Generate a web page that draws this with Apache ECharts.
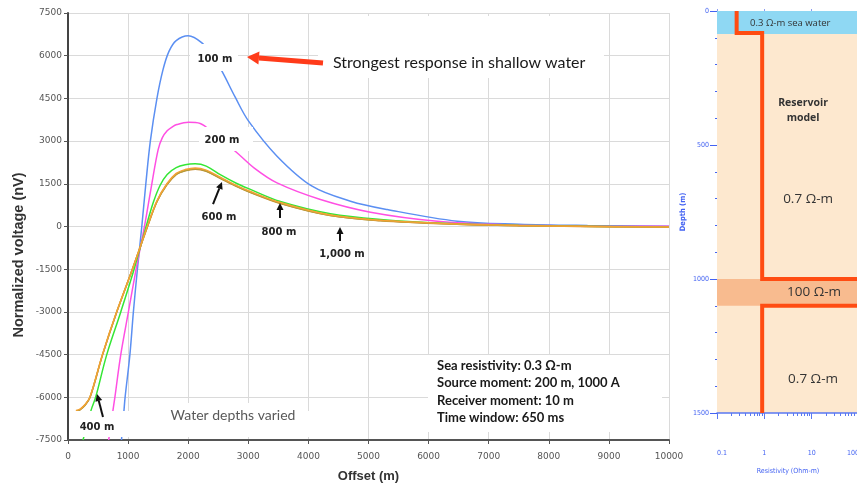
<!DOCTYPE html>
<html><head><meta charset="utf-8">
<script src="https://cdn.jsdelivr.net/npm/echarts@6/dist/echarts.min.js"></script>
<style>html,body{margin:0;padding:0;background:#fff}#c{width:857px;height:485px}</style>
</head><body><div id="c"></div>
<script>
// ---------------- data (left chart: offset in m, normalized voltage in nV) ----------------
const off100 = [890, 930, 950, 1030, 1088, 1155, 1228, 1295, 1370, 1480, 1580, 1680, 1800, 2000, 2228, 2400, 2561, 2780, 3005, 3478, 4061, 4700, 5311, 6478, 7500, 8645, 10000];
const volt100 = [-7500, -6500, -6000, -4500, -3000, -1500, 0, 1500, 3000, 4500, 5500, 6150, 6530, 6700, 6450, 6000, 5455, 4550, 3700, 2470, 1415, 890, 597, 186, 80, 35, 10];

const off200 = [677, 745, 780, 878, 1005, 1133, 1272, 1395, 1500, 1570, 1650, 1730, 1811, 2005, 2200, 2450, 2783, 3100, 3478, 4200, 5033, 6145, 7300, 8500, 10000];
const volt200 = [-7500, -6500, -6000, -4500, -3000, -1500, 0, 1500, 2700, 3120, 3360, 3490, 3580, 3660, 3620, 3200, 2645, 2050, 1530, 948, 503, 186, 60, 20, 5];

const off400 = [250, 383, 460, 645, 878, 1100, 1300, 1420, 1533, 1650, 1800, 1950, 2117, 2300, 2533, 2800, 3005, 3533, 4367, 5200, 6367, 7500, 8500, 10000];
const volt400 = [-7500, -6460, -6000, -4500, -3000, -1500, 0, 850, 1450, 1830, 2070, 2170, 2200, 2120, 1820, 1520, 1330, 880, 450, 250, 105, 40, 10, -15];

const offDeep = [133, 200, 280, 366, 575, 811, 1072, 1322, 1480, 1645, 1800, 1950, 2117, 2300, 2533, 2800, 3005, 3533, 4367, 5200, 6367, 7500, 8500, 10000];
const volt600 = [-6465, -6415, -6265, -5985, -4485, -2990, -1500, 15, 900, 1500, 1865, 2000, 2055, 1980, 1730, 1445, 1255, 840, 400, 216, 94, 32, 6, -20];
const volt800 = [-6480, -6430, -6280, -6000, -4500, -3000, -1500, 0, 880, 1475, 1835, 1970, 2025, 1950, 1700, 1420, 1230, 820, 390, 210, 90, 30, 5, -20];
const volt1000 = [-6490, -6440, -6290, -6010, -4510, -3005, -1495, -10, 870, 1460, 1820, 1955, 2010, 1935, 1690, 1410, 1220, 810, 385, 205, 88, 28, 4, -20];

// ---------------- data (right chart: resistivity model) ----------------
const profileRes = [0.26, 0.26, 0.9, 0.9, 100, 100, 0.9, 0.9];
const profileDepth = [0, 82, 82, 1000, 1000, 1100, 1100, 1500];
const seaBand = [0, 86];
const reservoirBand = [1000, 1100];
const resMinorTicks = [0.2,0.3,0.4,0.5,0.6,0.7,0.8,0.9,2,3,4,5,6,7,8,9,20,30,40,50,60,70,80,90];

const curves = [
  {name:'100 m', off:off100, v:volt100, color:'#5b8ff2'},
  {name:'200 m', off:off200, v:volt200, color:'#ff4fe3'},
  {name:'400 m', off:off400, v:volt400, color:'#35e635'},
  {name:'1,000 m', off:offDeep, v:volt1000, color:'#c98a2e'},
  {name:'800 m', off:offDeep, v:volt800, color:'#ab9f3f'},
  {name:'600 m', off:offDeep, v:volt600, color:'#f4a234'}
];

const chart = echarts.init(document.getElementById('c'));
const zip = (a, b) => a.map((x, i) => [x, b[i]]);
const plain = v => String(v);

const lineSeries = curves.map(c => ({
  type:'line', name:c.name, xAxisIndex:0, yAxisIndex:0,
  data: zip(c.off, c.v), symbol:'none', showSymbol:false,
  smooth:0.35,
  lineStyle:{color:c.color, width:1.5}, itemStyle:{color:c.color}, z:2
}));

const blue = '#4463f2';
const condensed = '"DejaVu Sans Condensed","DejaVu Sans",sans-serif';

chart.setOption({
  animation:false,
  grid:[
    {left:68, top:13, right:188, bottom:45, outerBoundsMode:'none', containLabel:false},
    {left:717, top:11, width:142, height:402, outerBoundsMode:'none', containLabel:false,
     show:true, backgroundColor:'#fde8cf', borderWidth:0}
  ],
  xAxis:[
    {gridIndex:0, type:'value', min:0, max:10000, interval:1000,
     axisLine:{onZero:false, lineStyle:{color:'#555', width:2}},
     axisTick:{length:4, lineStyle:{color:'#555'}},
     axisLabel:{fontSize:9, color:'#555', margin:12, fontFamily:'"DejaVu Sans",sans-serif', formatter:plain},
     splitLine:{lineStyle:{color:'#dadada'}},
     name:'Offset (m)', nameLocation:'middle', nameGap:30,
     nameTextStyle:{fontSize:13, fontWeight:'bold', color:'#333', fontFamily:'"Liberation Sans",Arial,sans-serif'}},
    {gridIndex:1, type:'log', logBase:10, min:0.1, max:100, position:'bottom',
     axisLine:{onZero:false, lineStyle:{color:'#5a78f2', width:1.5}},
     axisTick:{length:6, lineStyle:{color:'#5a78f2'}},
     axisLabel:{fontSize:7, color:blue, margin:37, fontFamily:condensed, alignMinLabel:'left', alignMaxLabel:'right', formatter:plain},
     splitLine:{show:false},
     name:'Resistivity (Ohm-m)', nameLocation:'middle', nameGap:55,
     nameTextStyle:{fontSize:7, color:blue, fontFamily:condensed}},
    {gridIndex:1, type:'log', logBase:10, min:0.1, max:100, position:'bottom',
     axisLine:{show:false, onZero:false},
     axisTick:{length:3, customValues:resMinorTicks, lineStyle:{color:'#5a78f2'}},
     axisLabel:{show:false}, splitLine:{show:false}},
    {gridIndex:1, type:'log', logBase:10, min:0.1, max:100, position:'top',
     axisLine:{onZero:false, lineStyle:{color:'#8c9cf0', width:1.2}},
     axisTick:{length:2, lineStyle:{color:'#8c9cf0'}},
     axisLabel:{show:false}, splitLine:{show:false}}
  ],
  yAxis:[
    {gridIndex:0, type:'value', min:-7500, max:7500, interval:1500,
     axisLine:{show:true, onZero:false, lineStyle:{color:'#444', width:2}},
     axisTick:{show:true, length:4, lineStyle:{color:'#555'}},
     axisLabel:{fontSize:9, color:'#555', margin:6, fontFamily:'"DejaVu Sans",sans-serif', formatter:plain},
     splitLine:{lineStyle:{color:'#dadada'}}},
    {gridIndex:1, type:'value', min:0, max:1500, interval:500, inverse:true,
     axisLine:{show:false, onZero:false},
     axisTick:{show:true, length:7, lineStyle:{color:blue}},
     minorTick:{show:true, splitNumber:5, length:2, lineStyle:{color:blue}},
     axisLabel:{fontSize:7, color:blue, margin:8, fontFamily:condensed, formatter:plain},
     splitLine:{show:false},
     name:'Depth (m)', nameLocation:'middle', nameGap:30,
     nameTextStyle:{fontSize:7.5, fontWeight:'bold', color:blue, fontFamily:condensed}}
  ],
  series: lineSeries.concat([{
    type:'line', name:'Resistivity model', xAxisIndex:1, yAxisIndex:1,
    data: zip(profileRes, profileDepth), symbol:'none', showSymbol:false,
    lineStyle:{color:'#ff4c12', width:4, join:'miter', cap:'butt'}, z:5,
    markArea:{silent:true, z:1, data:[
      [{yAxis:seaBand[0], itemStyle:{color:'#8fd8f3'}}, {yAxis:seaBand[1]}],
      [{yAxis:reservoirBand[0], itemStyle:{color:'#f8bb8f'}}, {yAxis:reservoirBand[1]}]
    ]}
  }])
});

// ---------------- annotations ----------------
const L = d => chart.convertToPixel({xAxisIndex:0, yAxisIndex:0}, d);
const R = d => chart.convertToPixel({xAxisIndex:1, yAxisIndex:1}, d);
const g = [];
function box(a, b) {
  const p = L(a), q = L(b);
  g.push({type:'rect', silent:true, z:50, shape:{x:Math.min(p[0],q[0]), y:Math.min(p[1],q[1]), width:Math.abs(q[0]-p[0]), height:Math.abs(q[1]-p[1])}, style:{fill:'#ffffff'}});
}
function txt(p, text, font, fill, align, va) {
  g.push({type:'text', silent:true, z:60, x:p[0], y:p[1], style:{text, font, fill, align:align||'center', verticalAlign:va||'middle'}});
}
function arrow(a, b, w, hl, hw, color) {
  const p0 = L(a), p1 = L(b);
  const dx = p1[0]-p0[0], dy = p1[1]-p0[1], len = Math.hypot(dx, dy), ux = dx/len, uy = dy/len;
  const bx = p1[0]-ux*hl, by = p1[1]-uy*hl, nx = -uy, ny = ux;
  g.push({type:'line', silent:true, z:61, shape:{x1:p0[0], y1:p0[1], x2:bx, y2:by}, style:{stroke:color, lineWidth:w}});
  g.push({type:'polygon', silent:true, z:61, shape:{points:[[p1[0],p1[1]],[bx+nx*hw,by+ny*hw],[bx-nx*hw,by-ny*hw]]}, style:{fill:color}});
}
const labFont = 'bold 10px "DejaVu Sans",Verdana,sans-serif';
const calFont = '"Lato","Open Sans",sans-serif';

// white label boxes
box([2030, 6411], [2829, 5462]);
box([2180, 3495], [3078, 2652]);
box([4160, 7394], [8918, 5216]);
box([17, -6483], [4526, -7396]);
box([1614, -6200], [3860, -7080]);
box([5990, -4514], [9884, -7219]);

txt(L([2446, 5884]), '100 m', labFont, '#222');
txt(L([2562, 3039]), '200 m', labFont, '#222');
txt(L([2512, 334]), '600 m', labFont, '#222');
txt(L([3511, -193]), '800 m', labFont, '#222');
txt(L([4559, -966]), '1,000 m', labFont, '#222');
txt(L([483, -7043]), '400 m', labFont, '#222');
arrow([2413, 790], [2562, 1563], 2, 7, 3.5, '#111');
arrow([3527, 299], [3527, 826], 2, 7, 3.5, '#111');
arrow([4526, -509], [4526, -18], 2, 7, 3.5, '#111');
arrow([582, -6692], [483, -5884], 2, 7, 3.5, '#111');
arrow([4243, 5743], [2978, 5954], 5, 12, 6.5, '#ff3b1a');
txt(L([4409, 5743]), 'Strongest response in shallow water', '16px ' + calFont, '#1a1a1a', 'left');
txt(L([2745, -6622]), 'Water depths varied', '14px ' + calFont, '#595959');
const infoLines = ['Sea resistivity: 0.3 Ω-m', 'Source moment: 200 m, 1000 A', 'Receiver moment: 10 m', 'Time window: 650 ms'];
const infoY = [-4900, -5498, -6130, -6727];
infoLines.forEach((t, i) => txt(L([6140, infoY[i]]), t, 'bold 13px ' + calFont, '#1a1a1a', 'left'));

// y-axis name of the left chart
g.push({type:'text', silent:true, z:60, x:19, y:255, rotation:Math.PI/2,
  style:{text:'Normalized voltage (nV)', font:'bold 14.5px "Liberation Sans",Arial,sans-serif', fill:'#333', align:'center', verticalAlign:'middle'}});

// right-chart texts
const rFont = '"Open Sans","Liberation Sans",sans-serif';
txt(R([0.5, 45]), '0.3 Ω-m sea water', '9.5px ' + rFont, '#333', 'left');
txt(R([6.58, 343]), 'Reservoir', 'bold 10.5px ' + rFont, '#333');
txt(R([6.58, 399]), 'model', 'bold 10.5px ' + rFont, '#333');
txt(R([8.4, 701]), '0.7 Ω-m', '13.5px ' + rFont, '#333');
txt(R([11.2, 1049]), '100 Ω-m', '13.5px ' + rFont, '#333');
txt(R([10.7, 1373]), '0.7 Ω-m', '13.5px ' + rFont, '#333');

chart.setOption({graphic: g});
</script>
</body></html>
